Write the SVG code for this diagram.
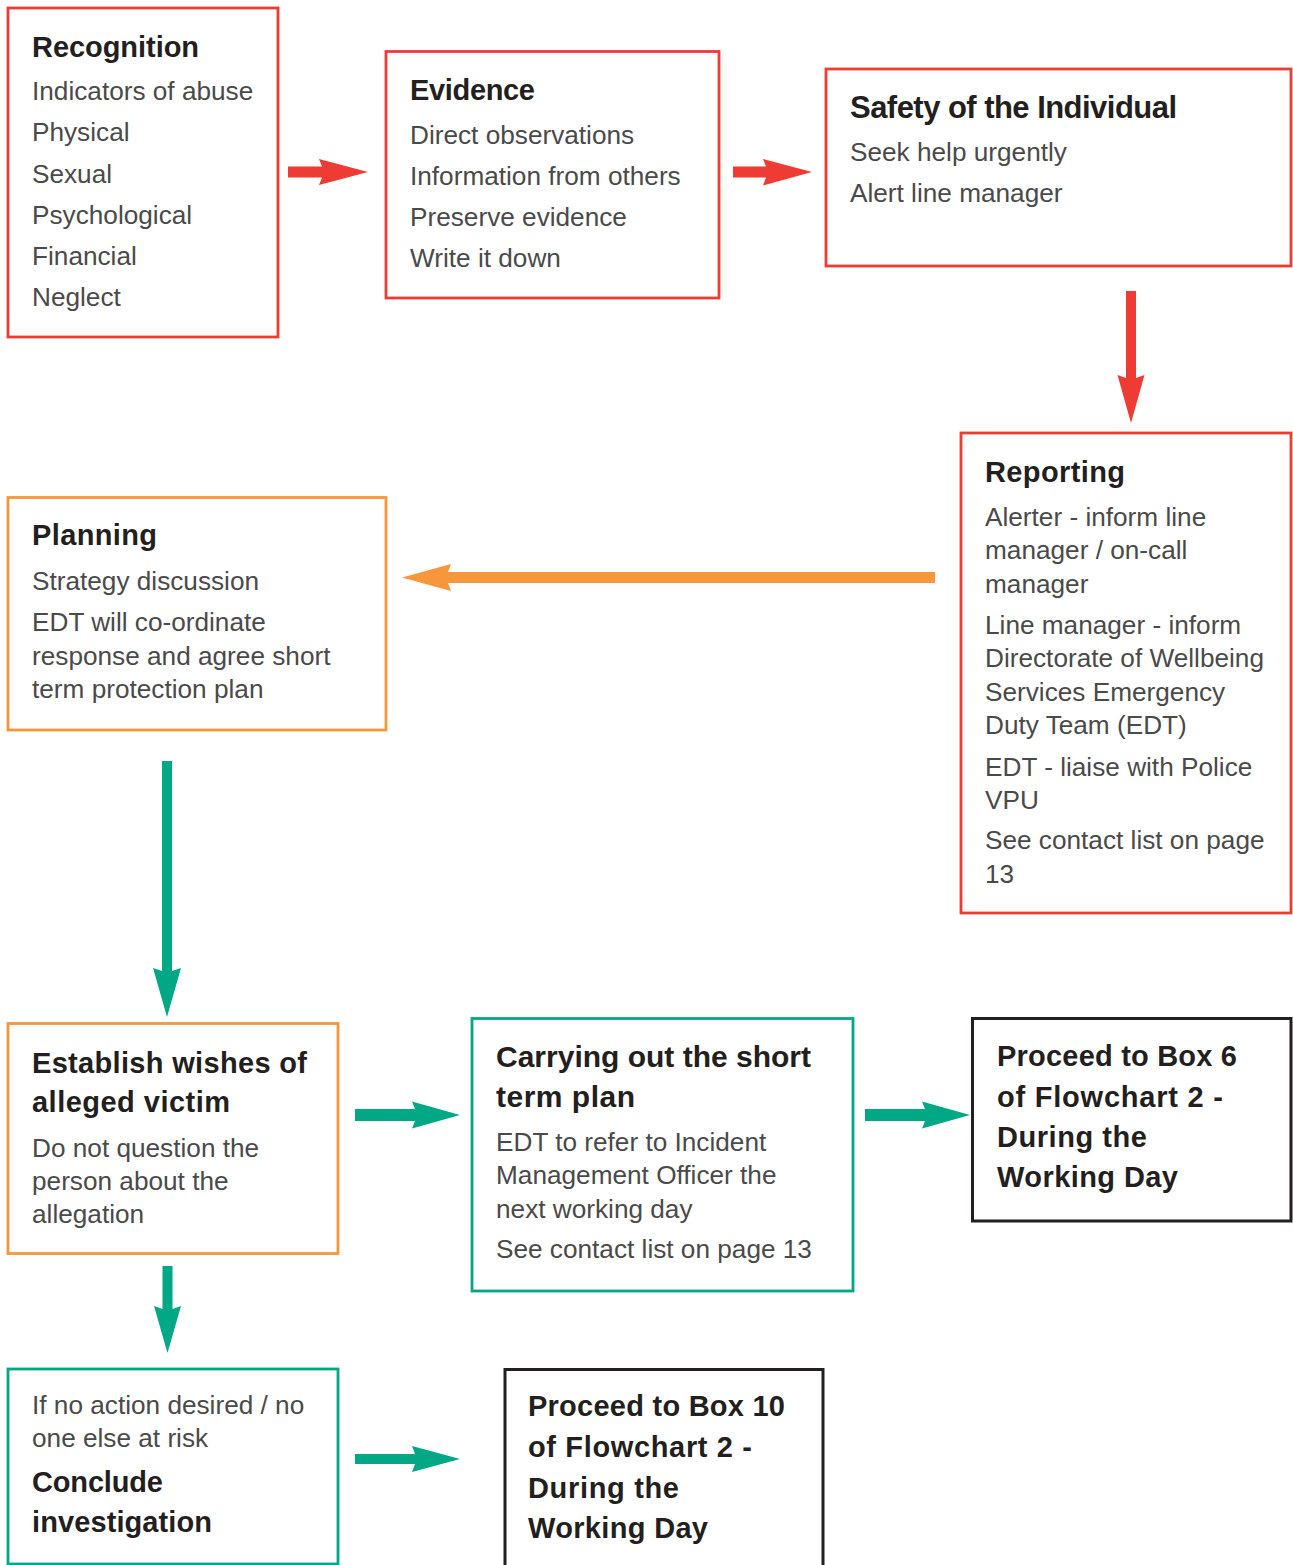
<svg xmlns="http://www.w3.org/2000/svg" width="1293" height="1565" viewBox="0 0 1293 1565">
<style>
.bg{fill:#ffffff}
.box{fill:#ffffff;stroke-width:2.8}
.red{stroke:#EE3B33}
.org{stroke:#F7963A}
.grn{stroke:#00A886}
.blk{stroke:#231F20;stroke-width:3}
.t{font-family:"Liberation Sans",Arial,sans-serif;font-weight:bold;font-size:29px;fill:#231F20}
.b{font-family:"Liberation Sans",Arial,sans-serif;font-size:26.2px;fill:#4A4A4A}
.ar{stroke:none}
.ar.r{fill:#EE3B33}
.ar.o{fill:#F7963A}
.ar.g{fill:#00A886}
</style>
<rect class="bg" x="0" y="0" width="1293" height="1565"/>

<g id="connectors">
<polygon class="ar r" points="288,166.5 322,166.5 319,159 368,172 319,185 322,177.5 288,177.5"/>
<polygon class="ar r" points="733,166.5 766,166.5 763,159 812,172 763,185.5 766,177.5 733,177.5"/>
<polygon class="ar r" points="1126,291 1126,378 1117.5,375 1131,423 1144.5,375 1136,378 1136,291"/>
<polygon class="ar o" points="935,572 448,572 451,564 402,577.5 451,591 448,583 935,583"/>
<polygon class="ar g" points="162,761 162,971 153,968 167,1017 181,968 172,971 172,761"/>
<polygon class="ar g" points="355,1109 415,1109 412,1101.5 460,1115 412,1128.5 415,1121 355,1121"/>
<polygon class="ar g" points="865,1109 925,1109 922,1101.5 970,1115 922,1128.5 925,1121 865,1121"/>
<polygon class="ar g" points="162.5,1266 162.5,1309 154,1306 167.5,1353 181,1306 172.5,1309 172.5,1266"/>
<polygon class="ar g" points="355,1454 415,1454 412,1446 460,1459 412,1472 415,1464 355,1464"/>
</g>

<g id="recognition">
<rect class="box red" x="8" y="8" width="270" height="329"/>
<text class="t" x="32" y="57" textLength="167">Recognition</text>
<text class="b" x="32" y="100">Indicators of abuse</text>
<text class="b" x="32" y="141">Physical</text>
<text class="b" x="32" y="182.5">Sexual</text>
<text class="b" x="32" y="223.5">Psychological</text>
<text class="b" x="32" y="265">Financial</text>
<text class="b" x="32" y="306">Neglect</text>
</g>

<g id="evidence">
<rect class="box red" x="386" y="51.5" width="333" height="246.5"/>
<text class="t" x="410" y="100" textLength="125">Evidence</text>
<text class="b" x="410" y="143.5">Direct observations</text>
<text class="b" x="410" y="184.5">Information from others</text>
<text class="b" x="410" y="225.5">Preserve evidence</text>
<text class="b" x="410" y="266.5">Write it down</text>
</g>

<g id="safety">
<rect class="box red" x="826" y="69" width="465" height="197"/>
<text class="t" x="850" y="118" style="font-size:31px" textLength="327">Safety of the Individual</text>
<text class="b" x="850" y="160.5">Seek help urgently</text>
<text class="b" x="850" y="201.5">Alert line manager</text>
</g>

<g id="reporting">
<rect class="box red" x="961" y="433" width="330" height="480"/>
<text class="t" x="985" y="482" textLength="140">Reporting</text>
<text class="b" x="985" y="525.5">Alerter - inform line</text>
<text class="b" x="985" y="559">manager / on-call</text>
<text class="b" x="985" y="592.5">manager</text>
<text class="b" x="985" y="633.5">Line manager - inform</text>
<text class="b" x="985" y="667">Directorate of Wellbeing</text>
<text class="b" x="985" y="700.5">Services Emergency</text>
<text class="b" x="985" y="734">Duty Team (EDT)</text>
<text class="b" x="985" y="775.5">EDT - liaise with Police</text>
<text class="b" x="985" y="809">VPU</text>
<text class="b" x="985" y="849">See contact list on page</text>
<text class="b" x="985" y="883">13</text>
</g>

<g id="planning">
<rect class="box org" x="8" y="497.5" width="378" height="232.5"/>
<text class="t" x="32" y="545" textLength="125">Planning</text>
<text class="b" x="32" y="590">Strategy discussion</text>
<text class="b" x="32" y="630.5">EDT will co-ordinate</text>
<text class="b" x="32" y="664.5">response and agree short</text>
<text class="b" x="32" y="698">term protection plan</text>
</g>

<g id="establish">
<rect class="box org" x="8" y="1023.5" width="330" height="230"/>
<text class="t" x="32" y="1072.5" textLength="275">Establish wishes of</text>
<text class="t" x="32" y="1111.5" textLength="198">alleged victim</text>
<text class="b" x="32" y="1156.5">Do not question the</text>
<text class="b" x="32" y="1190">person about the</text>
<text class="b" x="32" y="1223">allegation</text>
</g>

<g id="carrying">
<rect class="box grn" x="472" y="1018.5" width="381" height="272.5"/>
<text class="t" x="496" y="1066.5" style="font-size:30px" textLength="315">Carrying out the short</text>
<text class="t" x="496" y="1106.5" style="font-size:30px" textLength="139">term plan</text>
<text class="b" x="496" y="1150.5">EDT to refer to Incident</text>
<text class="b" x="496" y="1184">Management Officer the</text>
<text class="b" x="496" y="1217.5">next working day</text>
<text class="b" x="496" y="1258">See contact list on page 13</text>
</g>

<g id="proceed6">
<rect class="box blk" x="972.5" y="1018.5" width="318.5" height="202.5"/>
<text class="t" x="997" y="1066" textLength="240">Proceed to Box 6</text>
<text class="t" x="997" y="1106.5" textLength="226">of Flowchart 2 -</text>
<text class="t" x="997" y="1147" textLength="150">During the</text>
<text class="t" x="997" y="1186.5" textLength="181">Working Day</text>
</g>

<g id="conclude">
<rect class="box grn" x="8" y="1369" width="330" height="195"/>
<text class="b" x="32" y="1414">If no action desired / no</text>
<text class="b" x="32" y="1447">one else at risk</text>
<text class="t" x="32" y="1491.5" textLength="131">Conclude</text>
<text class="t" x="32" y="1531.5" textLength="180">investigation</text>
</g>

<g id="proceed10">
<rect class="box blk" x="505" y="1369.5" width="318" height="220"/>
<text class="t" x="528" y="1416" textLength="257">Proceed to Box 10</text>
<text class="t" x="528" y="1457" textLength="224">of Flowchart 2 -</text>
<text class="t" x="528" y="1497.5" textLength="151">During the</text>
<text class="t" x="528" y="1537.5" textLength="180">Working Day</text>
</g>
</svg>
